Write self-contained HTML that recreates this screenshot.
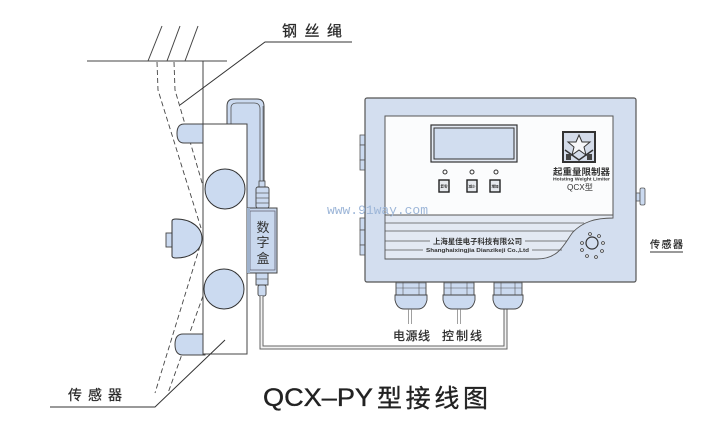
<!DOCTYPE html>
<html><head><meta charset="utf-8"><style>
html,body{margin:0;padding:0;background:#fff;}
svg{display:block;}
text{font-family:"Liberation Sans","Noto Sans CJK SC",sans-serif;}
.cjk{font-family:"Liberation Sans","Noto Sans CJK SC",sans-serif;}
</style></head><body>
<svg width="720" height="421" viewBox="0 0 720 421" xmlns="http://www.w3.org/2000/svg">
<rect width="720" height="421" fill="#fff"/>

<!-- ceiling -->
<g stroke="#444" stroke-width="1" fill="none">
<line x1="87" y1="61" x2="227" y2="61"/>
<line x1="148" y1="61" x2="162" y2="26"/>
<line x1="167" y1="61" x2="180" y2="26"/>
<line x1="185" y1="61" x2="198" y2="26"/>
<line x1="203" y1="61" x2="203" y2="124"/>
</g>
<!-- dashed rope -->
<g stroke="#444" stroke-width="0.9" fill="none" stroke-dasharray="5,3">
<polyline points="157,62 158,90 201,228"/>
<polyline points="174,62 175,90 203,186"/>
<polyline points="200,246 155,393"/>
<polyline points="203,296 168,393"/>
</g>

<!-- tube -->
<path d="M227,124 V106 Q227,99 234,99 H257 Q264,99 264,106 V208 H227 Z" fill="#cbdaf0" stroke="#444" stroke-width="1"/>
<path d="M231,124 V108 Q231,103 237,103 H254 Q260,103 260,109 V182" fill="none" stroke="#555" stroke-width="0.8"/>
<path d="M263,106 V182" fill="none" stroke="#555" stroke-width="0.6"/>

<!-- stubs -->
<path d="M205,124 H184 Q177,124 177,133.5 Q177,143 184,143 H205 Z" fill="#cbdaf0" stroke="#444" stroke-width="1"/>
<path d="M205,334 H183 Q175,334 175,344.5 Q175,355 183,355 H205 Z" fill="#cbdaf0" stroke="#444" stroke-width="1"/>

<!-- sensor body -->
<rect x="203" y="124" width="44" height="230" fill="#fff" stroke="#444" stroke-width="1"/>
<circle cx="225" cy="189" r="20" fill="#cbdaf0" stroke="#333" stroke-width="1"/>
<circle cx="224" cy="289" r="20" fill="#cbdaf0" stroke="#333" stroke-width="1"/>
<!-- hemisphere -->
<rect x="166" y="233" width="7" height="14" fill="#cbdaf0" stroke="#444" stroke-width="0.9"/>
<path d="M172,221 Q172,219 176,219 C192,219 202,228 202,238.5 C202,249 192,258 176,258 Q172,258 172,256 Z" fill="#cbdaf0" stroke="#333" stroke-width="1"/>

<!-- leader lines -->
<g stroke="#333" stroke-width="1" fill="none">
<polyline points="180,105 265,42 352,42"/>
<polyline points="50,407 155,407 225,340"/>
<line x1="650" y1="252" x2="683" y2="252"/>
</g>

<!-- connectors around digital box -->
<rect x="259" y="181" width="6" height="7" fill="#cbdaf0" stroke="#444" stroke-width="0.8"/>
<rect x="256" y="187" width="13" height="21" rx="2" fill="#cbdaf0" stroke="#444" stroke-width="0.9"/>
<g stroke="#555" stroke-width="0.7"><line x1="256" y1="193" x2="269" y2="193"/><line x1="256" y1="198" x2="269" y2="198"/><line x1="256" y1="203" x2="269" y2="203"/></g>
<rect x="256" y="273" width="12" height="12" fill="#cbdaf0" stroke="#444" stroke-width="0.9"/>
<rect x="258" y="285" width="8" height="11" rx="2" fill="#cbdaf0" stroke="#444" stroke-width="0.9"/>
<line x1="256" y1="279" x2="268" y2="279" stroke="#555" stroke-width="0.7"/>

<!-- cable -->
<path d="M261.5,296 V347.5 H505.5 V308" fill="none" stroke="#666" stroke-width="4"/>
<path d="M261.5,296 V347.5 H505.5 V308" fill="none" stroke="#f2f2f2" stroke-width="2"/>

<!-- digital box -->
<rect x="247" y="208" width="30" height="65" fill="#c9d8ee" stroke="#444" stroke-width="1"/>
<rect x="250" y="211" width="25" height="59" fill="none" stroke="#667" stroke-width="0.8"/>
<rect x="247" y="208" width="3" height="65" fill="#9fb2cc"/>
<g class="cjk" font-size="13" fill="#333" text-anchor="middle">
<text x="263" y="232">数</text>
<text x="263" y="247">字</text>
<text x="263" y="263">盒</text>
</g>

<!-- hinges -->
<g fill="#cbdaf0" stroke="#555" stroke-width="0.8">
<rect x="360" y="135" width="5" height="10"/><rect x="360" y="145" width="5" height="15"/><rect x="360" y="160" width="5" height="10"/>
<rect x="360" y="218" width="5" height="12"/><rect x="360" y="230" width="5" height="15"/><rect x="360" y="245" width="5" height="10"/>
</g>
<!-- right knob -->
<rect x="636" y="193" width="4" height="8" fill="#cbdaf0" stroke="#555" stroke-width="0.8"/>
<rect x="640" y="188" width="5" height="17" rx="1.5" fill="#cbdaf0" stroke="#555" stroke-width="0.8"/>

<!-- glands -->
<g stroke="#444" stroke-width="0.9" fill="#cbdaf0">
<g>
<rect x="396" y="278" width="30" height="17"/>
<path d="M395,295 H427 V300 Q425,309 418,309 H404 Q397,309 395,300 Z"/>
</g>
<g>
<rect x="444" y="278" width="30" height="17"/>
<path d="M443,295 H475 V300 Q473,309 466,309 H452 Q445,309 443,300 Z"/>
</g>
<g>
<rect x="494" y="278" width="28" height="17"/>
<path d="M493,295 H523 V300 Q521,309 514,309 H502 Q495,309 493,300 Z"/>
</g>
</g>
<g stroke="#555" stroke-width="0.6">
<line x1="396" y1="283" x2="426" y2="283"/><line x1="396" y1="288" x2="426" y2="288"/><line x1="403" y1="278" x2="403" y2="295"/><line x1="419" y1="278" x2="419" y2="295"/>
<line x1="444" y1="283" x2="474" y2="283"/><line x1="444" y1="288" x2="474" y2="288"/><line x1="451" y1="278" x2="451" y2="295"/><line x1="467" y1="278" x2="467" y2="295"/>
<line x1="494" y1="283" x2="522" y2="283"/><line x1="494" y1="288" x2="522" y2="288"/><line x1="501" y1="278" x2="501" y2="295"/><line x1="515" y1="278" x2="515" y2="295"/>
</g>
<!-- wires -->
<g stroke="#777" stroke-width="0.7">
<line x1="408.5" y1="309" x2="408.5" y2="324"/><line x1="411.5" y1="309" x2="411.5" y2="324"/>
<line x1="457.5" y1="309" x2="457.5" y2="324"/><line x1="460.5" y1="309" x2="460.5" y2="324"/>
</g>

<!-- main box -->
<rect x="365" y="98" width="271" height="184" rx="2" fill="#d3deef" stroke="#555" stroke-width="1.2"/>
<path d="M385,215 H613 V218 C595,218 583,222 573,232 C565,242 560,259 537,259 H385 Z" fill="#e3e9f3" stroke="#555" stroke-width="0.9"/>
<rect x="385" y="116" width="228" height="99" fill="#fbfcfd" stroke="#555" stroke-width="1"/>
<g stroke="#555" stroke-width="0.8">
<line x1="385" y1="223" x2="584" y2="223"/>
<line x1="385" y1="231" x2="574" y2="231"/>
<line x1="385" y1="241" x2="430" y2="241"/><line x1="525" y1="241" x2="567" y2="241"/>
<line x1="385" y1="250" x2="423" y2="250"/><line x1="532" y1="250" x2="562" y2="250"/>
</g>
<text x="433" y="244" font-size="7.4" font-weight="bold" fill="#333" textLength="89" lengthAdjust="spacingAndGlyphs">上海星佳电子科技有限公司</text>
<text x="426" y="252" font-size="5.5" font-weight="bold" fill="#333" textLength="103" lengthAdjust="spacingAndGlyphs">Shanghaixingjia Dianzikeji Co.,Ltd</text>

<!-- LCD -->
<rect x="431" y="125" width="86" height="37" fill="#e4eaf3" stroke="#333" stroke-width="1.2"/>
<rect x="434" y="128" width="80" height="31" fill="#d1ddef" stroke="#333" stroke-width="1"/>
<!-- LEDs -->
<g fill="#fff" stroke="#333" stroke-width="1">
<circle cx="445" cy="172" r="2"/><circle cx="472" cy="172" r="2"/><circle cx="496" cy="172" r="2"/>
</g>
<!-- buttons -->
<g fill="#e6e9ee" stroke="#222" stroke-width="1.4">
<rect x="439" y="180" width="10" height="12"/><rect x="467" y="180" width="10" height="12"/><rect x="490" y="180" width="10" height="12"/>
</g>
<g font-size="3.5" fill="#222" font-weight="bold" text-anchor="middle">
<text x="444" y="187.5">复零</text><text x="472" y="187.5">减少</text><text x="495" y="187.5">增加</text>
</g>

<!-- logo -->
<rect x="563" y="132" width="32" height="30" fill="#d4dcea" stroke="#333" stroke-width="2"/>
<polygon points="579,135 582,142 590,142 584,147 586,155 579,150 572,155 574,147 568,142 576,142" fill="#f6f7fa" stroke="#333" stroke-width="1"/>
<polyline points="565,150 579,160 593,150" fill="none" stroke="#333" stroke-width="1.5"/>
<rect x="566" y="154" width="5" height="6" fill="#444"/><rect x="587" y="154" width="5" height="6" fill="#444"/>
<text x="553" y="175" font-size="9" font-weight="bold" fill="#333" textLength="57" lengthAdjust="spacingAndGlyphs">起重量限制器</text>
<text x="553" y="180.5" font-size="4.5" font-weight="bold" fill="#333" textLength="57" lengthAdjust="spacingAndGlyphs">Hoisting Weight Limiter</text>
<text x="567" y="190" font-size="8" fill="#333" textLength="26" lengthAdjust="spacingAndGlyphs">QCX型</text>

<!-- speaker -->
<circle cx="592" cy="243" r="6" fill="none" stroke="#333" stroke-width="1.2"/>
<g fill="#fff" stroke="#333" stroke-width="0.8">
<circle cx="590" cy="234" r="1.4"/><circle cx="599" cy="236" r="1.4"/><circle cx="603" cy="243" r="1.4"/><circle cx="602" cy="251" r="1.4"/>
<circle cx="596" cy="257" r="1.4"/><circle cx="587" cy="256" r="1.4"/><circle cx="582" cy="250" r="1.4"/><circle cx="582" cy="243" r="1.4"/>
</g>

<!-- watermark (on top of box) -->
<text x="327" y="214" style="font-family:'Liberation Mono',monospace;font-size:13px" fill="#9db6d8" textLength="101">www.91way.com</text>

<!-- labels -->
<g fill="#2a2a2a" stroke="#2a2a2a" stroke-width="0.25">
<text x="282" y="36" class="cjk" font-size="15" textLength="60">钢丝绳</text>
<text x="68" y="400" class="cjk" font-size="14" textLength="54">传感器</text>
<text x="650" y="248" class="cjk" font-size="10" textLength="33">传感器</text>
<text x="393" y="340" class="cjk" font-size="12" textLength="37">电源线</text>
<text x="442" y="340" class="cjk" font-size="12" textLength="40">控制线</text>
</g>

<!-- title -->
<g fill="#222" stroke="#222" stroke-width="0.35">
<text x="263" y="406" font-size="25" textLength="110" lengthAdjust="spacingAndGlyphs">QCX–PY</text>
<text x="377" y="407" class="cjk" font-size="25" textLength="111">型接线图</text>
</g>
</svg>
</body></html>
